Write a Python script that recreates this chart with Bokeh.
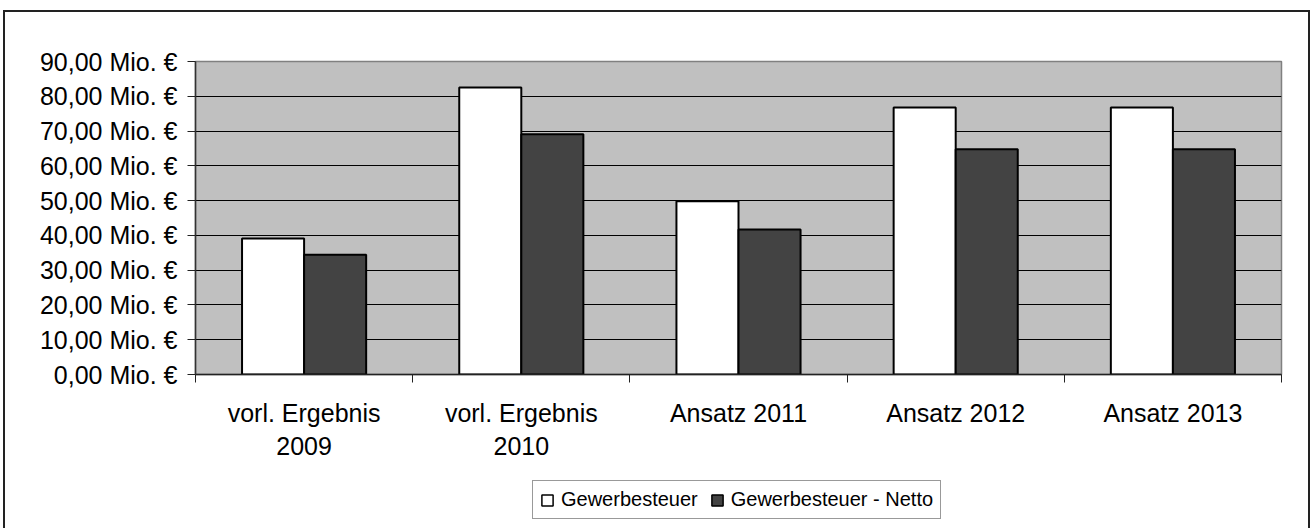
from bokeh.plotting import figure
from bokeh.layouts import column
from bokeh.models import (ColumnDataSource, Range1d, FixedTicker, Legend, LegendItem)
from bokeh.transform import dodge
from bokeh.embed import file_html
from bokeh.resources import INLINE

# ---- data ----
categories = ["vorl. Ergebnis\n2009", "vorl. Ergebnis\n2010", "Ansatz 2011", "Ansatz 2012", "Ansatz 2013"]
gewerbesteuer = [39.1, 82.5, 49.8, 76.8, 76.8]
gewerbesteuer_netto = [34.4, 69.1, 41.7, 64.8, 64.8]
series_names = ["Gewerbesteuer", "Gewerbesteuer - Netto"]
series_colors = ["white", "#434343"]
y_ticks = [0, 10, 20, 30, 40, 50, 60, 70, 80, 90]
y_tick_labels = ["0,00 Mio. €", "10,00 Mio. €", "20,00 Mio. €", "30,00 Mio. €", "40,00 Mio. €",
                 "50,00 Mio. €", "60,00 Mio. €", "70,00 Mio. €", "80,00 Mio. €", "90,00 Mio. €"]

idx = list(range(1, len(categories) + 1))
source = ColumnDataSource(dict(idx=idx, g=gewerbesteuer, n=gewerbesteuer_netto))

FONT = "Liberation Sans"
BAR_W = 1 / 3.5

# ---- main chart ----
p = figure(width=1303, height=460, output_backend="svg", toolbar_location=None,
           x_range=Range1d(0.5, len(categories) + 0.5), y_range=Range1d(0, 90),
           min_border_left=190, min_border_right=27, min_border_top=49, min_border_bottom=98)

p.background_fill_color = "#C0C0C0"
p.border_fill_color = "white"
p.outline_line_color = "#808080"
p.outline_line_width = 1.5

p.vbar(x=dodge("idx", -BAR_W / 2, range=p.x_range), top="g", width=BAR_W, source=source,
       fill_color=series_colors[0], line_color="black", line_width=2)
p.vbar(x=dodge("idx", BAR_W / 2, range=p.x_range), top="n", width=BAR_W, source=source,
       fill_color=series_colors[1], line_color="black", line_width=2)

# x axis
xa = p.xaxis[0]
xa.ticker = FixedTicker(ticks=idx, minor_ticks=[i - 0.5 for i in idx] + [idx[-1] + 0.5])
xa.major_label_overrides = {i: c for i, c in zip(idx, categories)}
xa.major_tick_line_color = None
xa.major_tick_out = 8
xa.major_tick_in = 0
xa.minor_tick_out = 8
xa.minor_tick_in = 0
xa.minor_tick_line_color = "#222"
xa.axis_line_color = "#222"
xa.axis_line_width = 1.5
xa.major_label_text_font = FONT
xa.major_label_text_font_size = "25px"
xa.major_label_text_color = "black"
xa.major_label_text_line_height = 1.2
xa.major_label_standoff = 16

# y axis
ya = p.yaxis[0]
ya.ticker = FixedTicker(ticks=y_ticks, minor_ticks=[])
ya.major_label_overrides = {t: l for t, l in zip(y_ticks, y_tick_labels)}
ya.major_tick_out = 8
ya.major_tick_in = 0
ya.major_tick_line_color = "#222"
ya.axis_line_color = "#333"
ya.axis_line_width = 1.5
ya.major_label_text_font = FONT
ya.major_label_text_font_size = "25px"
ya.major_label_text_color = "black"
ya.major_label_standoff = 10

p.xgrid.grid_line_color = None
p.ygrid.ticker = FixedTicker(ticks=y_ticks[1:-1], minor_ticks=[])
p.ygrid.grid_line_color = "black"
p.ygrid.grid_line_width = 1

# ---- legend strip (zero-size series glyphs below its range, only swatches show) ----
pl = figure(width=1303, height=56, output_backend="svg", toolbar_location=None,
            x_range=Range1d(0.5, len(categories) + 0.5), y_range=Range1d(1000, 1001),
            min_border=0, outline_line_color=None)
pl.axis.visible = False
pl.grid.visible = False
pl.background_fill_color = "white"
pl.border_fill_color = "white"
lr1 = pl.vbar(x="idx", top="g", bottom="g", width=0, source=source,
              fill_color=series_colors[0], line_color="black", line_width=1.5)
lr2 = pl.vbar(x="idx", top="n", bottom="n", width=0, source=source,
              fill_color=series_colors[1], line_color="black", line_width=1.5)
legend = Legend(items=[LegendItem(label=series_names[0], renderers=[lr1], index=0),
                       LegendItem(label=series_names[1], renderers=[lr2], index=0)],
                orientation="horizontal", location=(337, 9),
                glyph_width=14, glyph_height=14, label_height=20,
                label_standoff=7, spacing=12, padding=7, margin=0,
                label_text_font=FONT, label_text_font_size="20px", label_text_color="black",
                border_line_color="#333", border_line_width=1.5,
                background_fill_color="white", background_fill_alpha=1)
pl.add_layout(legend, "center")

layout = column(p, pl, spacing=0)
layout.styles = {"margin-left": "3px", "margin-top": "10px",
                 "border-left": "2px solid #222", "border-top": "2px solid #222",
                 "border-right": "2px solid #222"}

open("out.html", "w").write(file_html(layout, INLINE))
